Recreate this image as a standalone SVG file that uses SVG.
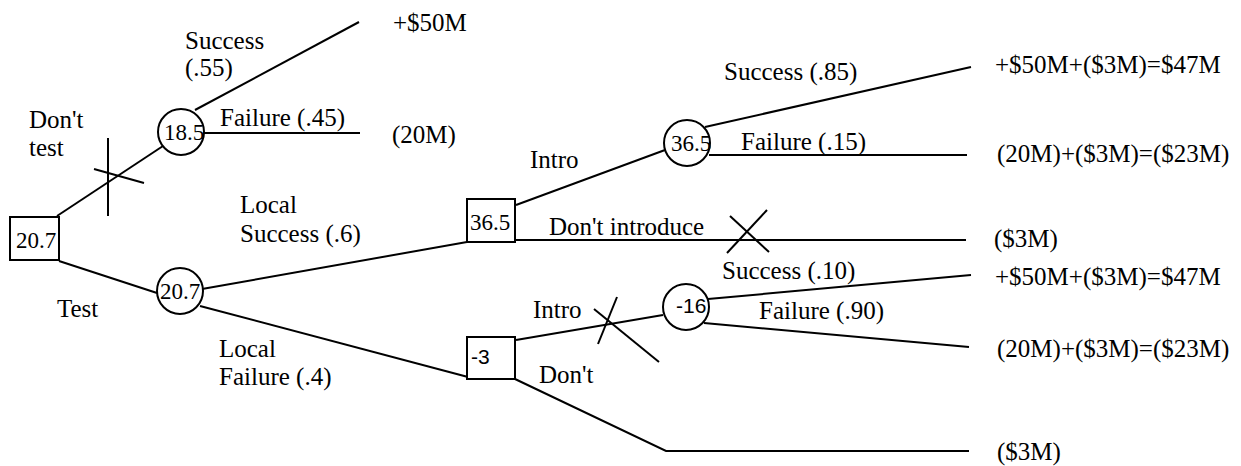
<svg xmlns="http://www.w3.org/2000/svg" width="1241" height="466" viewBox="0 0 1241 466">
<style>
.ln{stroke:#000;stroke-width:2;fill:none}
.box{fill:#fff;stroke:#000;stroke-width:2}
</style>
<rect width="1241" height="466" fill="#fff"/>
<g id="connectors" class="ln">
<line x1="57" y1="216" x2="163" y2="146"/>
<line x1="195" y1="110" x2="359" y2="22"/>
<line x1="204" y1="133" x2="360" y2="133"/>
<line x1="59" y1="261" x2="157" y2="293"/>
<line x1="202" y1="289" x2="467" y2="242"/>
<line x1="200" y1="306" x2="468" y2="377"/>
<line x1="516" y1="205" x2="665" y2="150"/>
<line x1="705" y1="127" x2="971" y2="67"/>
<line x1="709" y1="155" x2="967" y2="155"/>
<line x1="515" y1="240" x2="966" y2="240"/>
<line x1="516" y1="340" x2="663" y2="315"/>
<polyline points="515,379 666,451 969,451"/>
<line x1="708" y1="299" x2="971" y2="275"/>
<line x1="704" y1="323" x2="969" y2="347"/>
<line x1="108" y1="138" x2="108" y2="216"/>
<line x1="94" y1="169" x2="144" y2="183"/>
<line x1="767" y1="210" x2="727" y2="253"/>
<line x1="730" y1="216" x2="769" y2="252"/>
<line x1="617" y1="297" x2="598" y2="344"/>
<line x1="594" y1="309" x2="659" y2="362"/>
</g>
<g id="root"><rect class="box" x="10" y="217" width="49" height="43"/><text x="16" y="248" font-family="'Liberation Serif', 'Times New Roman', serif" font-size="23">20.7</text></g>
<g id="chance-notest"><circle class="box" cx="181" cy="132" r="23"/><text x="164" y="140" font-family="'Liberation Serif', 'Times New Roman', serif" font-size="23">18.5</text></g>
<g id="chance-test"><circle class="box" cx="180" cy="291" r="23"/><text x="160" y="299" font-family="'Liberation Serif', 'Times New Roman', serif" font-size="23">20.7</text></g>
<g id="decision-ls"><rect class="box" x="467" y="199" width="48" height="43"/><text x="470" y="230" font-family="'Liberation Serif', 'Times New Roman', serif" font-size="23">36.5</text></g>
<g id="chance-ls"><circle class="box" cx="687" cy="143" r="23"/><text x="671" y="151" font-family="'Liberation Serif', 'Times New Roman', serif" font-size="23">36.5</text></g>
<g id="decision-lf"><rect class="box" x="467" y="337" width="48" height="42"/><text x="471" y="364" font-family="'Liberation Sans', Arial, sans-serif" font-size="21">-3</text></g>
<g id="chance-lf"><circle class="box" cx="686" cy="307" r="23"/><text x="676" y="313" font-family="'Liberation Sans', Arial, sans-serif" font-size="21">-16</text></g>
<g id="labels">
<text x="29" y="128" font-family="'Liberation Serif', 'Times New Roman', serif" font-size="25">Don't</text>
<text x="29" y="156" font-family="'Liberation Serif', 'Times New Roman', serif" font-size="25">test</text>
<text x="185" y="49" font-family="'Liberation Serif', 'Times New Roman', serif" font-size="25">Success</text>
<text x="185" y="76" font-family="'Liberation Serif', 'Times New Roman', serif" font-size="25">(.55)</text>
<text x="220" y="126" font-family="'Liberation Serif', 'Times New Roman', serif" font-size="25">Failure (.45)</text>
<text x="393" y="31" font-family="'Liberation Serif', 'Times New Roman', serif" font-size="25">+$50M</text>
<text x="392" y="143" font-family="'Liberation Serif', 'Times New Roman', serif" font-size="25">(20M)</text>
<text x="57" y="317" font-family="'Liberation Serif', 'Times New Roman', serif" font-size="25">Test</text>
<text x="240" y="213" font-family="'Liberation Serif', 'Times New Roman', serif" font-size="25">Local</text>
<text x="240" y="242" font-family="'Liberation Serif', 'Times New Roman', serif" font-size="25">Success (.6)</text>
<text x="219" y="357" font-family="'Liberation Serif', 'Times New Roman', serif" font-size="25">Local</text>
<text x="219" y="385" font-family="'Liberation Serif', 'Times New Roman', serif" font-size="25">Failure (.4)</text>
<text x="530" y="168" font-family="'Liberation Serif', 'Times New Roman', serif" font-size="25">Intro</text>
<text x="549" y="235" font-family="'Liberation Serif', 'Times New Roman', serif" font-size="25">Don't introduce</text>
<text x="724" y="80" font-family="'Liberation Serif', 'Times New Roman', serif" font-size="25">Success (.85)</text>
<text x="741" y="150" font-family="'Liberation Serif', 'Times New Roman', serif" font-size="25">Failure (.15)</text>
<text x="533" y="318" font-family="'Liberation Serif', 'Times New Roman', serif" font-size="25">Intro</text>
<text x="539" y="383" font-family="'Liberation Serif', 'Times New Roman', serif" font-size="25">Don't</text>
<text x="722" y="279" font-family="'Liberation Serif', 'Times New Roman', serif" font-size="25">Success (.10)</text>
<text x="759" y="319" font-family="'Liberation Serif', 'Times New Roman', serif" font-size="25">Failure (.90)</text>
<text x="995" y="73" font-family="'Liberation Serif', 'Times New Roman', serif" font-size="25">+$50M+($3M)=$47M</text>
<text x="997" y="162" font-family="'Liberation Serif', 'Times New Roman', serif" font-size="25">(20M)+($3M)=($23M)</text>
<text x="994" y="247" font-family="'Liberation Serif', 'Times New Roman', serif" font-size="25">($3M)</text>
<text x="995" y="285" font-family="'Liberation Serif', 'Times New Roman', serif" font-size="25">+$50M+($3M)=$47M</text>
<text x="997" y="357" font-family="'Liberation Serif', 'Times New Roman', serif" font-size="25">(20M)+($3M)=($23M)</text>
<text x="997" y="460" font-family="'Liberation Serif', 'Times New Roman', serif" font-size="25">($3M)</text>
</g>
</svg>
